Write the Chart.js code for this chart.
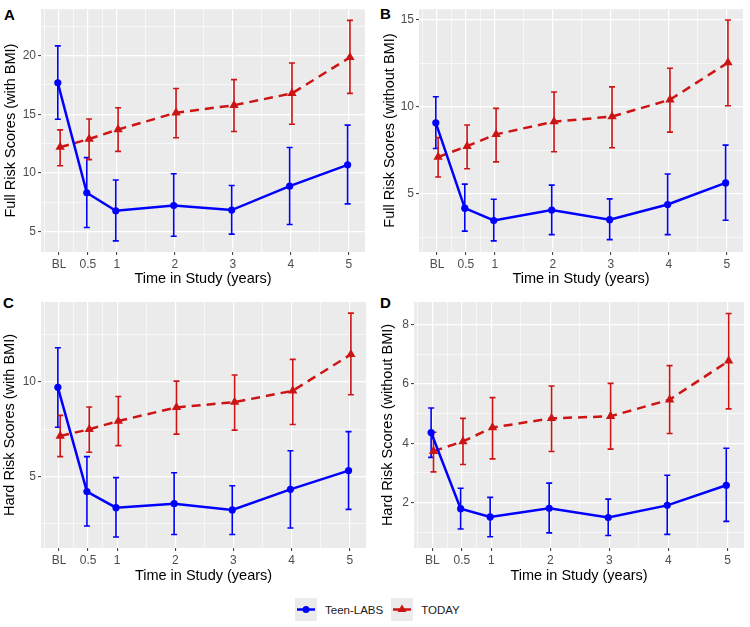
<!DOCTYPE html>
<html>
<head>
<meta charset="utf-8">
<script src="https://cdn.jsdelivr.net/npm/chart.js@4.4.1/dist/chart.umd.min.js"></script>
<style>
  body { margin: 0; background: #fff; width: 750px; height: 627px; position: relative; overflow: hidden;
         font-family: 'Liberation Sans', Arial, sans-serif; }
  canvas { position: absolute; }
  .tag { position: absolute; font-weight: bold; font-size: 15px; line-height: 1; color: #000; }
  #legend { position: absolute; left: 295px; top: 598px; display: flex; align-items: center; font-size: 11.5px; color: #1a1a1a; }
  #legend .key { width: 22px; height: 23px; background: #EBEBEB; }
  #legend span { margin: 0 8px 0 8px; }
</style>
</head>
<body>
<div class="tag" style="left:4px; top:7px;">A</div>
<div class="tag" style="left:380px; top:6px;">B</div>
<div class="tag" style="left:3px; top:295px;">C</div>
<div class="tag" style="left:380px; top:295px;">D</div>

<canvas id="chartA" width="375" height="290" style="left:0; top:0;"></canvas>
<canvas id="chartB" width="375" height="290" style="left:375px; top:0;"></canvas>
<canvas id="chartC" width="375" height="300" style="left:0; top:290px;"></canvas>
<canvas id="chartD" width="375" height="300" style="left:375px; top:290px;"></canvas>

<div id="legend">
  <svg class="key" width="22" height="23"><rect width="22" height="23" fill="#EBEBEB"/><line x1="2" y1="11.5" x2="20" y2="11.5" stroke="#0000FF" stroke-width="2.5"/><circle cx="11" cy="11.5" r="3.5" fill="#0000FF"/></svg>
  <span>Teen-LABS</span>
  <svg class="key" width="22" height="23"><rect width="22" height="23" fill="#EBEBEB"/><line x1="2" y1="11.5" x2="20" y2="11.5" stroke="#CD1414" stroke-width="2.5"/><polygon points="11,6.5 15.5,14 6.5,14" fill="#CD1414"/></svg>
  <span>TODAY</span>
</div>

<script>
// Time points (BL = 0 years)
const years = [0, 0.5, 1, 2, 3, 4, 5];
const xTickValues = [0, 0.5, 1, 2, 3, 4, 5];
const xTickLabels = ['BL', '0.5', '1', '2', '3', '4', '5'];
const xMinorTicks = [-0.25, 0.25, 0.75, 1.5, 2.5, 3.5, 4.5];
const DODGE = 0.02;

// Panel A: Full Risk Scores (with BMI)
const aTeenMean = [17.68, 8.30, 6.76, 7.21, 6.82, 8.86, 10.68];
const aTeenLow = [14.57, 5.33, 4.19, 4.58, 4.77, 5.59, 7.35];
const aTeenHigh = [20.84, 11.30, 9.39, 9.92, 8.92, 12.16, 14.07];
const aTodayMean = [12.19, 12.89, 13.70, 15.13, 15.77, 16.78, 19.86];
const aTodayLow = [10.60, 11.13, 11.83, 13.00, 13.53, 14.15, 16.78];
const aTodayHigh = [13.67, 14.60, 15.55, 17.20, 17.96, 19.38, 23.02];

// Panel B: Full Risk Scores (without BMI)
const bTeenMean = [9.07, 4.17, 3.46, 4.06, 3.51, 4.38, 5.62];
const bTeenLow = [7.60, 2.85, 2.29, 2.65, 2.36, 2.65, 3.47];
const bTeenHigh = [10.57, 5.55, 4.68, 5.49, 4.70, 6.13, 7.79];
const bTodayMean = [7.11, 7.73, 8.41, 9.14, 9.43, 10.40, 12.53];
const bTodayLow = [5.96, 6.43, 6.83, 7.41, 7.64, 8.54, 10.05];
const bTodayHigh = [8.22, 8.95, 9.90, 10.84, 11.14, 12.21, 14.98];

// Panel C: Hard Risk Scores (with BMI)
const cTeenMean = [9.72, 4.21, 3.36, 3.57, 3.24, 4.33, 5.32];
const cTeenLow = [7.61, 2.39, 1.81, 1.94, 1.94, 2.29, 3.27];
const cTeenHigh = [11.81, 6.06, 4.95, 5.21, 4.52, 6.37, 7.38];
const cTodayMean = [7.15, 7.50, 7.94, 8.66, 8.94, 9.54, 11.46];
const cTodayLow = [6.06, 6.29, 6.64, 7.25, 7.46, 7.76, 9.33];
const cTodayHigh = [8.24, 8.68, 9.24, 10.05, 10.37, 11.20, 13.64];

// Panel D: Hard Risk Scores (without BMI)
const dTeenMean = [4.36, 1.79, 1.51, 1.80, 1.49, 1.90, 2.58];
const dTeenLow = [3.52, 1.10, 0.84, 0.97, 0.88, 0.92, 1.36];
const dTeenHigh = [5.19, 2.48, 2.17, 2.65, 2.11, 2.92, 3.83];
const dTodayMean = [3.73, 4.06, 4.53, 4.84, 4.91, 5.47, 6.78];
const dTodayLow = [3.03, 3.28, 3.47, 3.72, 3.80, 4.33, 5.16];
const dTodayHigh = [4.37, 4.84, 5.54, 5.93, 6.02, 6.62, 8.38];

const BLUE = '#0000FF';
const RED = '#CD1414';
const FONT = "'Liberation Sans', Arial, sans-serif";

// grey panel background
const panelBg = {
  id: 'panelBg',
  beforeDraw(chart) {
    const { ctx, chartArea: a } = chart;
    ctx.save();
    ctx.fillStyle = '#EBEBEB';
    ctx.fillRect(a.left, a.top, a.right - a.left, a.bottom - a.top);
    ctx.restore();
  }
};

// vertical error bars with caps, drawn under the lines and points
const errorBars = {
  id: 'errorBars',
  beforeDatasetsDraw(chart) {
    const ctx = chart.ctx;
    const yScale = chart.scales.y;
    chart.data.datasets.forEach((ds, i) => {
      const meta = chart.getDatasetMeta(i);
      ctx.save();
      ctx.strokeStyle = ds.borderColor;
      ctx.lineWidth = 1.6;
      meta.data.forEach((pt, j) => {
        const x = pt.x;
        const yLo = yScale.getPixelForValue(ds.errLow[j]);
        const yHi = yScale.getPixelForValue(ds.errHigh[j]);
        ctx.beginPath();
        ctx.moveTo(x, yLo); ctx.lineTo(x, yHi);
        ctx.moveTo(x - 3, yLo); ctx.lineTo(x + 3, yLo);
        ctx.moveTo(x - 3, yHi); ctx.lineTo(x + 3, yHi);
        ctx.stroke();
      });
      ctx.restore();
    });
  }
};

function toPoints(values, shift) {
  return years.map((yr, i) => ({ x: yr + shift, y: values[i] }));
}

function makePanel(id, cfg) {
  const isMajorX = v => xTickValues.includes(v);
  const isMajorY = v => cfg.yMajor.includes(v);
  const yTicks = cfg.yMajor.concat(cfg.yMinor).sort((a, b) => a - b);
  const xTicks = xTickValues.concat(xMinorTicks).sort((a, b) => a - b);

  return new Chart(document.getElementById(id), {
    type: 'line',
    data: {
      datasets: [
        {
          label: 'Teen-LABS',
          data: toPoints(cfg.teen[0], -DODGE),
          errLow: cfg.teen[1],
          errHigh: cfg.teen[2],
          borderColor: BLUE,
          backgroundColor: BLUE,
          borderWidth: 2.5,
          pointStyle: 'circle',
          pointRadius: 3.6,
          pointBorderWidth: 0,
          tension: 0
        },
        {
          label: 'TODAY',
          data: toPoints(cfg.today[0], DODGE),
          errLow: cfg.today[1],
          errHigh: cfg.today[2],
          borderColor: RED,
          backgroundColor: RED,
          borderWidth: 2.5,
          borderDash: [9, 6],
          pointStyle: 'triangle',
          pointRadius: 5.4,
          pointBorderWidth: 0,
          tension: 0
        }
      ]
    },
    options: {
      responsive: false,
      animation: false,
      events: [],
      layout: { padding: { left: 0, top: cfg.top, right: cfg.padRight, bottom: cfg.padBottom } },
      plugins: { legend: { display: false }, tooltip: { enabled: false } },
      scales: {
        x: {
          type: 'linear',
          min: -0.31,
          max: 5.28,
          afterBuildTicks: s => { s.ticks = xTicks.map(v => ({ value: v })); },
          afterFit: s => { s.height = cfg.xHeight; },
          ticks: {
            autoSkip: false,
            maxRotation: 0,
            padding: 2,
            color: '#4D4D4D',
            font: { family: FONT, size: 12 },
            callback: v => { const k = xTickValues.indexOf(v); return k >= 0 ? xTickLabels[k] : ''; }
          },
          grid: {
            color: '#FFFFFF',
            lineWidth: c => (c.tick && isMajorX(c.tick.value)) ? 1.2 : 0.6,
            tickColor: c => (c.tick && isMajorX(c.tick.value)) ? '#333333' : 'rgba(0,0,0,0)',
            tickWidth: 1,
            tickLength: 3
          },
          border: { display: false },
          title: {
            display: true,
            text: 'Time in Study (years)',
            color: '#000',
            font: { family: FONT, size: 14.5 },
            padding: { top: 0, bottom: 0 }
          }
        },
        y: {
          min: cfg.yMin,
          max: cfg.yMax,
          afterBuildTicks: s => { s.ticks = yTicks.map(v => ({ value: v })); },
          afterFit: s => { s.width = cfg.left; },
          ticks: {
            autoSkip: false,
            padding: 2,
            color: '#4D4D4D',
            font: { family: FONT, size: 12 },
            callback: v => isMajorY(v) ? String(v) : ''
          },
          grid: {
            color: '#FFFFFF',
            lineWidth: c => (c.tick && isMajorY(c.tick.value)) ? 1.2 : 0.6,
            tickColor: c => (c.tick && isMajorY(c.tick.value)) ? '#333333' : 'rgba(0,0,0,0)',
            tickWidth: 1,
            tickLength: 3
          },
          border: { display: false },
          title: {
            display: true,
            text: cfg.yTitle,
            color: '#000',
            font: { family: FONT, size: 14.5 },
            padding: { top: cfg.yTitlePad, bottom: 0 }
          }
        }
      }
    },
    plugins: [panelBg, errorBars]
  });
}

makePanel('chartA', {
  yTitle: 'Full Risk Scores (with BMI)',
  yMin: 3.24, yMax: 23.97, yMajor: [5, 10, 15, 20], yMinor: [7.5, 12.5, 17.5, 22.5],
  left: 41, padRight: 10, top: 5, xHeight: 35.4, padBottom: 2.6, yTitlePad: 2.3,
  teen: [aTeenMean, aTeenLow, aTeenHigh], today: [aTodayMean, aTodayLow, aTodayHigh]
});

makePanel('chartB', {
  yTitle: 'Full Risk Scores (without BMI)',
  yMin: 1.65, yMax: 15.6, yMajor: [5, 10, 15], yMinor: [2.5, 7.5, 12.5],
  left: 44, padRight: 7, top: 5, xHeight: 35.4, padBottom: 2.6, yTitlePad: 6.3,
  teen: [bTeenMean, bTeenLow, bTeenHigh], today: [bTodayMean, bTodayLow, bTodayHigh]
});

makePanel('chartC', {
  yTitle: 'Hard Risk Scores (with BMI)',
  yMin: 1.23, yMax: 14.23, yMajor: [5, 10], yMinor: [2.5, 7.5, 12.5],
  left: 41, padRight: 9, top: 12, xHeight: 36.4, padBottom: 5.6, yTitlePad: 1.3,
  teen: [cTeenMean, cTeenLow, cTeenHigh], today: [cTodayMean, cTodayLow, cTodayHigh]
});

makePanel('chartD', {
  yTitle: 'Hard Risk Scores (without BMI)',
  yMin: 0.46, yMax: 8.77, yMajor: [2, 4, 6, 8], yMinor: [1, 3, 5, 7],
  left: 39, padRight: 6, top: 12, xHeight: 36.4, padBottom: 5.6, yTitlePad: 4.3,
  teen: [dTeenMean, dTeenLow, dTeenHigh], today: [dTodayMean, dTodayLow, dTodayHigh]
});
</script>
</body>
</html>
